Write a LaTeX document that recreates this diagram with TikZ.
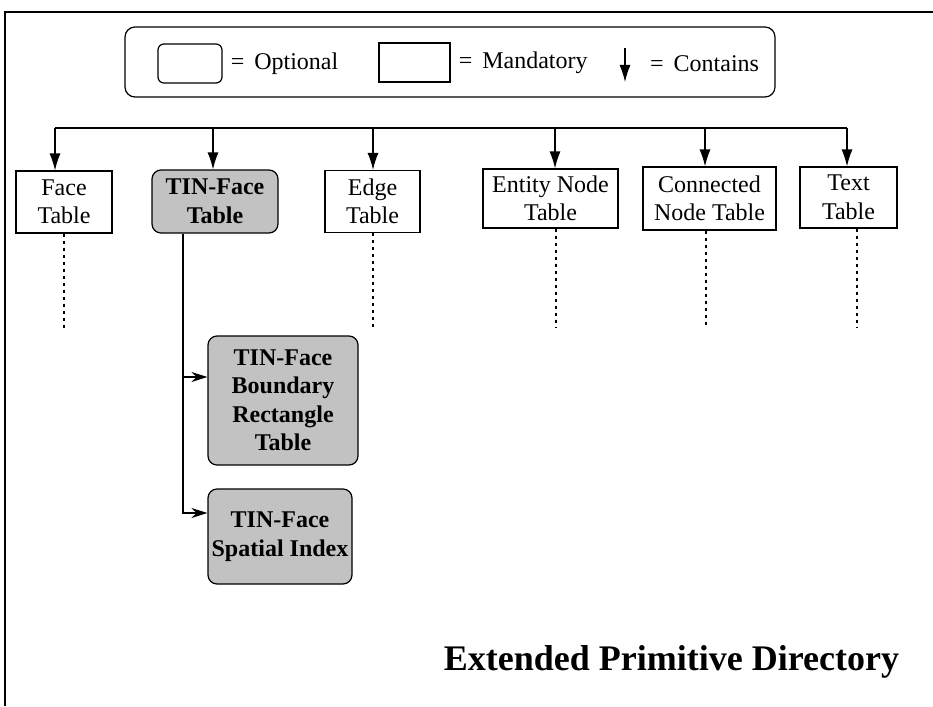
\documentclass[tikz,border=0pt]{standalone}
\usepackage{fontspec}
\setmainfont{Liberation Serif}
\usetikzlibrary{positioning, arrows.meta}

\newcommand\diagfont{\fontsize{24}{28.5}\selectfont}

\tikzset{
  mandatory/.style={draw, line width=1.2pt, align=center, inner sep=0pt, minimum height=62pt},
  optional/.style={mandatory, rounded corners=9pt, fill=black!24, font=\diagfont\bfseries},
  contains/.style={line width=1.2pt, -{Latex[length=17pt,width=11pt]}},
  branch/.style={line width=1.2pt, -{Stealth[length=16pt,width=10pt]}},
  continues/.style={line width=1.2pt, dash pattern=on 3pt off 4pt},
}

\begin{document}
\begin{tikzpicture}[x=1pt, y=-1pt, every node/.style={font=\diagfont}]

    \useasboundingbox (0,0) rectangle (933,706);
    \draw[line width=1.6pt] (5,706) -- (5,12) -- (933,12);

    \node[draw, line width=1.2pt, rounded corners=10pt, minimum width=650pt, minimum height=70pt] (legend) at (450,62) {};
    \node[draw, line width=1.2pt, rounded corners=6pt, minimum width=64pt, minimum height=39pt] (optkey) at (190,63.5) {};
    \node[anchor=west, inner sep=0pt] (optlabel) at ([xshift=8pt]optkey.east) {=~\,Optional};
    \node[draw, line width=1.2pt, minimum width=71pt, minimum height=39pt] (mandkey) at (414.5,62.5) {};
    \node[anchor=west, inner sep=0pt] (mandlabel) at ([xshift=8pt]mandkey.east) {=~\,Mandatory};
    \coordinate (conttop) at (625,48);
    \coordinate (contbot) at (625,82);
    \draw[contains] (conttop) -- (contbot);
    \node[anchor=west, inner sep=0pt] (contlabel) at (650,63.5) {=~\,Contains};

    \node[mandatory, minimum width=96pt] (face) at (64,202) {Face\\Table};
    \node[optional, minimum width=126pt, minimum height=63pt] (tinface) at (215,201.5) {TIN-Face\\Table};
    \node[mandatory, minimum width=95pt] (edge) at (372.5,201.5) {Edge\\Table};
    \node[mandatory, minimum width=135pt, minimum height=59pt] (entity) at (550.5,198.5) {Entity Node\\Table};
    \node[mandatory, minimum width=133pt, minimum height=63pt] (connected) at (709.5,198.5) {Connected\\Node Table};
    \node[mandatory, minimum width=97pt, minimum height=61pt] (text) at (848.5,197.5) {Text\\Table};

    \node[optional, minimum width=150pt, minimum height=129pt] (tinbound) at (283,400.5) {TIN-Face\\Boundary\\Rectangle\\Table};
    \node[optional, minimum width=144pt, minimum height=95pt] (tinspatial) at (280,536.5) {TIN-Face\\Spatial Index};

    \coordinate (bus) at (0,128);
    \coordinate (dotend) at (0,328);
    \draw[line width=1.2pt] ([xshift=-9pt]face.north |- bus) -- ([xshift=-1.5pt]text.north |- bus);
    \foreach \n/\dx in {face/-9, tinface/-2, edge/0.5, entity/4.5, connected/-4.5, text/-1.5}
        \draw[contains] ([xshift=\dx pt]\n.north |- bus) -- ([xshift=\dx pt]\n.north);
    \foreach \n/\dx in {face/0, edge/0.5, entity/5.5, connected/-3.5, text/8.5}
        \draw[continues] ([xshift=\dx pt]\n.south) -- ([xshift=\dx pt]\n.south |- dotend);

    \draw[branch] ([xshift=-32pt]tinface.south) |- ([yshift=23.5pt]tinspatial.west);
    \draw[branch] ([xshift=-32pt]tinface.south) |- ([yshift=23.5pt]tinbound.west);

    \node[font=\fontsize{36}{40}\selectfont\bfseries, anchor=base] (title) at (671.5,670) {Extended Primitive Directory};

\end{tikzpicture}
\end{document}
